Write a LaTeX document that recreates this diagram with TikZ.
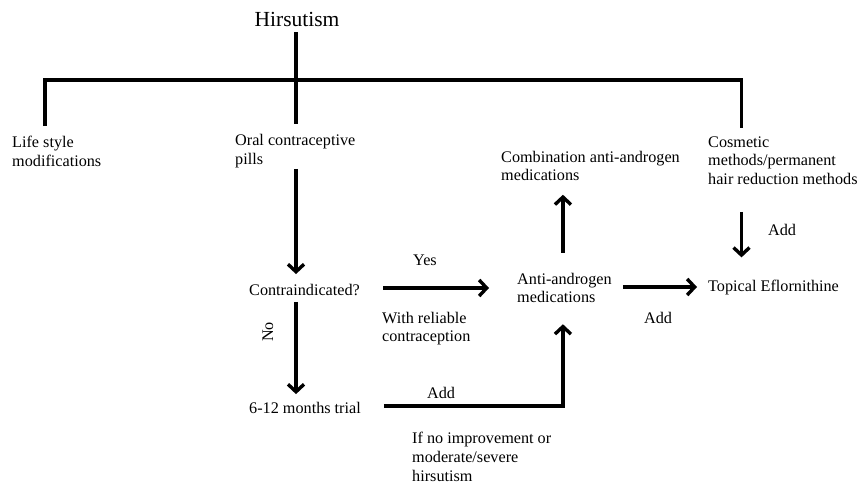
\documentclass[tikz,border=0pt]{standalone}
\usepackage{fontspec}
\setmainfont{Liberation Serif}
\usetikzlibrary{arrows,arrows.meta}
\usetikzlibrary{calc}
\definecolor{strich}{RGB}{0,0,0}

\tikzset{
    txt/.style={anchor=west, align=left, inner sep=0pt, font=\fontsize{16.2}{18.7}\selectfont},
    lbl/.style={inner sep=0pt, font=\fontsize{16.2}{18.7}\selectfont},
    tree/.style={line width=3.8pt, strich},
    pfeil/.style={line width=3.8pt, strich, -{Straight Barb[length=7.5pt,width=16pt,line width=3.4pt]}}
}

\begin{document}
\begin{tikzpicture}[x=1pt, y=-1pt]

    \useasboundingbox (0,0) rectangle (860,485);

    \node[inner sep=0pt, font=\fontsize{21.5}{24}\selectfont] (hirs) at (297,19) {Hirsutism};

    \node[txt] (life) at (12,151.5) {Life style\\modifications};
    \node[txt] (ocp) at (235,151) {Oral contraceptive\\pills};
    \node[txt] (cosm) at (708,160.5) {Cosmetic\\methods/permanent\\hair reduction methods};
    \node[txt] (combo) at (501,166) {Combination anti-androgen\\medications};
    \node[txt] (contra) at (249,290) {Contraindicated?};
    \node[txt] (anti) at (517,288) {Anti-androgen\\medications};
    \node[txt] (topical) at (708,288) {Topical Eflornithine};
    \node[txt] (trial) at (249,408) {6-12 months trial};

    % branch points of the tree
    \coordinate (tl) at (45,80);
    \coordinate (tm) at (296,80);
    \coordinate (tr) at (741.5,80);

    \draw[tree] ([yshift=-6pt]hirs.south -| tm) -- ([yshift=10pt]ocp.north -| tm);
    \draw[tree] ([yshift=10pt]life.north -| tl) -- (tl) -- (tr) -- ([yshift=8pt]cosm.north -| tr);

    \draw[pfeil] ([yshift=-1pt]ocp.south -| tm) -- ([yshift=10pt]contra.north -| tm);
    \draw[pfeil] ([yshift=-6pt]contra.south -| tm) -- ([yshift=8pt]trial.north -| tm);
    \draw[pfeil] ($(contra.east)+(23,-2)$) -- ($(anti.west)+(-28,0)$);
    \draw[pfeil] ($(trial.east)+(23,-2)$) -| ($(anti.south)+(-1.5,21)$);
    \draw[pfeil] ($(anti.north)+(-1.5,-20)$) -- ($(anti.north)+(-1.5,-78)$);
    \draw[pfeil] ($(anti.east)+(11,-1)$) -- ($(topical.west)+(-11,-1)$);
    \draw[pfeil] ([yshift=-27pt]cosm.south -| tr) -- ([yshift=23pt]topical.north -| tr);

    \node[lbl] (yes) at (425,260) {Yes};
    \node[txt] (reliable) at (382,328.5) {With reliable\\contraception};
    \node[lbl, rotate=90] (no) at (268,332) {No};
    \node[lbl] (add1) at (441,393) {Add};
    \node[txt] (ifno) at (412,457) {If no improvement or\\moderate/severe\\hirsutism};
    \node[lbl] (add2) at (658,318) {Add};
    \node[lbl] (add3) at (782,230) {Add};

\end{tikzpicture}
\end{document}
